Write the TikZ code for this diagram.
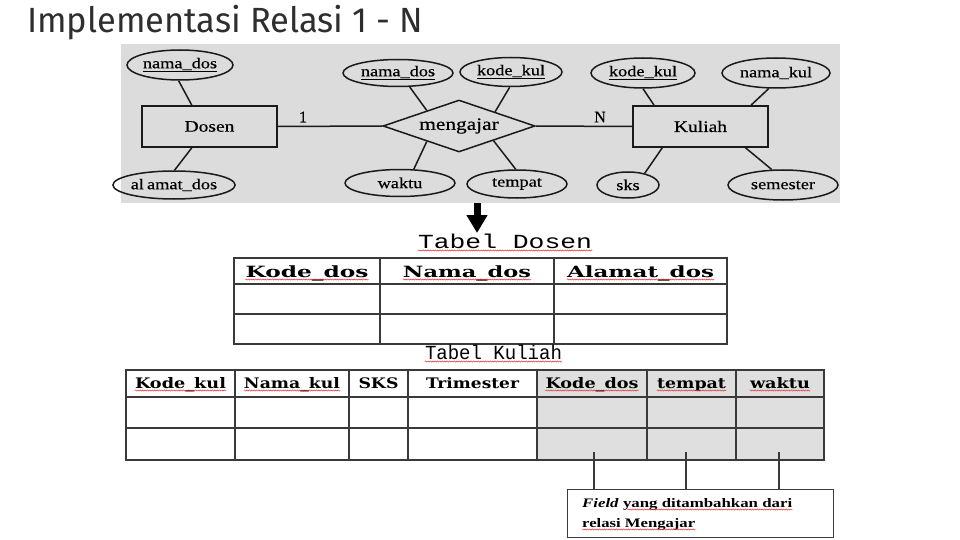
\documentclass[tikz,border=0pt]{standalone}
\usepackage{fontspec}
\usepackage{graphicx}
\usetikzlibrary{shapes.geometric,calc,decorations.pathmorphing,arrows.meta}

\newfontfamily\titlefont{Fira Sans}
\newfontfamily\erfont[FakeBold=0.4]{Liberation Serif}
\newfontfamily\headfont{DejaVu Serif}
\newfontfamily\captfont{Liberation Mono}
\newfontfamily\notefont{Liberation Serif}

% stretch a piece of text horizontally to a given width (in pt), keeping its height
\newcommand\stretchto[2]{\resizebox{#1pt}{\height}{#2}}
% ER labels are set wide
\newcommand\ertxt[1]{\scalebox{1.22}[1]{#1}}

\definecolor{titlegray}{HTML}{2E2E2E}
\definecolor{erbg}{HTML}{DCDCDC}
\definecolor{erline}{HTML}{1A1A1A}
\definecolor{tabline}{HTML}{3A3A3A}
\definecolor{cellgray}{HTML}{DFDFDF}
\definecolor{spellred}{HTML}{E03030}

\begin{document}
\begin{tikzpicture}[x=1pt,y=-1pt,
  attr/.style={ellipse, draw=erline, line width=1.5pt, inner sep=0pt,
               font=\erfont\fontsize{15}{17}\selectfont},
  entity/.style={rectangle, draw=erline, line width=1.9pt, inner sep=0pt,
                 minimum width=135pt, minimum height=41pt,
                 font=\erfont\fontsize{16}{18}\selectfont},
  relation/.style={diamond, aspect=2.9, draw=erline, line width=1.5pt, inner sep=0pt,
                   minimum width=152pt, minimum height=52pt,
                   font=\erfont\fontsize{17.5}{19}\selectfont},
  erlink/.style={draw=erline, line width=1.5pt},
  card/.style={inner sep=0pt, font=\erfont\fontsize{16}{18}\selectfont},
  tabrule/.style={draw=tabline, line width=1.3pt},
  caption/.style={anchor=base, inner sep=0pt, font=\captfont\fontsize{20}{22}\selectfont},
  colhead/.style={anchor=base, inner sep=0pt, font=\headfont\bfseries\fontsize{15.5}{18}\selectfont},
  kulhead/.style={colhead, font=\headfont\bfseries\fontsize{14.5}{17}\selectfont},
  notetext/.style={anchor=base west, inner sep=0pt, font=\notefont\bfseries\fontsize{13}{15}\selectfont},
  squig/.style={draw=spellred, line width=0.5pt, decorate,
                decoration={snake, amplitude=0.6pt, segment length=2.4pt}},
  pointer/.style={draw=tabline, line width=1.2pt}]

\useasboundingbox (0,0) rectangle (960,540);

% ---------- heading ----------
\node[anchor=base west, inner sep=0pt, text=titlegray] (title) at (27,33)
  {\titlefont\fontsize{35}{40}\selectfont\stretchto{396}{Implementasi Relasi 1 - N}};

% ---------- ER diagram ----------
\fill[erbg] (121,44) rectangle (840,203);

\node[entity] (dosen) at (209.5,126.5) {\ertxt{Dosen}};
\node[entity] (kuliah) at (700.5,126.5) {\ertxt{Kuliah}};
\node[relation] (ajar) at (459,126) {\ertxt{mengajar}};

\node[attr, minimum width=106pt, minimum height=30pt] (dnama) at (180,65) {\ertxt{\underline{nama\_dos}}};
\node[attr, minimum width=112pt, minimum height=28pt] (dalamat) at (174,185) {\ertxt{al\,amat\_dos}};

\node[attr, minimum width=110pt, minimum height=27pt] (rnama) at (398,73) {\ertxt{\underline{nama\_dos}}};
\node[attr, minimum width=102pt, minimum height=29pt] (rkode) at (511,72) {\ertxt{\underline{kode\_kul}}};
\node[attr, minimum width=110pt, minimum height=27pt] (rwaktu) at (400,183) {\ertxt{waktu}};
\node[attr, minimum width=100pt, minimum height=28pt] (rtempat) at (517,184) {\ertxt{tempat}};

\node[attr, minimum width=104pt, minimum height=30pt] (kkode) at (643,73) {\ertxt{\underline{kode\_kul}}};
\node[attr, minimum width=108pt, minimum height=30pt] (knama) at (776,73) {\ertxt{nama\_kul}};
\node[attr, minimum width=62pt, minimum height=26pt] (ksks) at (628,185) {\ertxt{sks}};
\node[attr, minimum width=110pt, minimum height=30pt] (ksem) at (783,185) {\ertxt{semester}};

% entity -- relation -- entity
\draw[erlink] (dosen.east) -- (ajar.west);
\draw[erlink] (ajar.east) -- (kuliah.west);
\node[card] (one) at (303,117) {1};
\node[card] (many) at (600,117) {N};

% attributes of Dosen
\draw[erlink] (dnama.265) -- ($(dosen.north west)!0.37!(dosen.north east)$);
\draw[erlink] (dalamat.88) -- ($(dosen.south west)!0.37!(dosen.south east)$);

% attributes of mengajar
\draw[erlink] (rnama.-50) -- ($(ajar.west)!0.58!(ajar.north)$);
\draw[erlink] (rkode.-95) -- ($(ajar.north)!0.47!(ajar.east)$);
\draw[erlink] (rwaktu.45) -- ($(ajar.west)!0.58!(ajar.south)$);
\draw[erlink] (rtempat.95) -- ($(ajar.south)!0.45!(ajar.east)$);

% attributes of Kuliah
\draw[erlink] (kkode.-90) -- ($(kuliah.north west)!0.16!(kuliah.north east)$);
\draw[erlink] (knama.-115) -- ($(kuliah.north west)!0.87!(kuliah.north east)$);
\draw[erlink] (ksks.35) -- ($(kuliah.south west)!0.22!(kuliah.south east)$);
\draw[erlink] (ksem.126) -- ($(kuliah.south west)!0.83!(kuliah.south east)$);

% ---------- arrow down to the tables ----------
\coordinate (arrtop) at (477,203);
\coordinate (arrtip) at (477,233);
\draw[line width=7pt, black, -{Triangle[width=20pt,length=18pt]}] (arrtop) -- (arrtip);

% ---------- Tabel Dosen ----------
\node[caption] (capdosen) at (505,248) {\stretchto{174}{Tabel Dosen}};

\draw[tabrule] (234,258) rectangle (727,344);
\draw[tabrule] (234,284) -- (727,284) (234,314) -- (727,314);
\draw[tabrule] (380,258) -- (380,344) (554,258) -- (554,344);

\node[colhead] (hkodedos) at (307,277) {\stretchto{123}{Kode\_dos}};
\node[colhead] (hnamados) at (467,277) {\stretchto{128}{Nama\_dos}};
\node[colhead] (halamat)  at (640.5,277) {\stretchto{147}{Alamat\_dos}};

% ---------- Tabel Kuliah ----------
\node[caption] (capkuliah) at (493.5,359) {\stretchto{137}{Tabel Kuliah}};

\fill[cellgray] (537,370) rectangle (824,460);
\draw[tabrule] (126,370) rectangle (824,460);
\draw[tabrule] (126,397) -- (824,397) (126,428) -- (824,428);
\foreach \cx in {235,349,408,537,647,736}
  \draw[tabrule] (\cx,370) -- (\cx,460);

\node[kulhead] (hkodekul) at (180.5,388) {\stretchto{91}{Kode\_kul}};
\node[kulhead] (hnamakul) at (292,388) {\stretchto{96}{Nama\_kul}};
\node[kulhead] (hsks)     at (378.5,388) {\stretchto{40}{SKS}};
\node[kulhead] (htrim)    at (472.5,388) {\stretchto{93}{Trimester}};
\node[kulhead] (hkdos)    at (592,388) {\stretchto{93}{Kode\_dos}};
\node[kulhead] (htempat)  at (691.5,388) {\stretchto{69}{tempat}};
\node[kulhead] (hwaktu)   at (780,388) {\stretchto{60}{waktu}};

% ---------- note on the added fields ----------
\node[draw=tabline, line width=1.2pt, rectangle, anchor=north west,
      minimum width=266pt, minimum height=48pt, inner sep=0pt] (note) at (567,489) {};
\node[notetext] (noteA) at (582,507) {\stretchto{210}{\textit{Field} yang ditambahkan dari}};
\node[notetext] (noteB) at (582,527) {\stretchto{113}{relasi Mengajar}};

\coordinate (fkdos)   at (594,452);
\coordinate (ftempat) at (686,452);
\coordinate (fwaktu)  at (779,452);
\foreach \f in {fkdos,ftempat,fwaktu}
  \draw[pointer] (\f) -- (\f |- note.north);

% ---------- spelling marks ----------
\foreach \n in {capdosen,capkuliah,hkodedos,hnamados,halamat,hkodekul,hnamakul,hkdos,htempat,hwaktu,noteB}
  \draw[squig] ([yshift=-2.5pt]\n.base west) -- ([yshift=-2.5pt]\n.base east);
\draw[squig] ([yshift=-2.5pt,xshift=45pt]noteA.base west) -- ([yshift=-2.5pt]noteA.base east);

\end{tikzpicture}
\end{document}
